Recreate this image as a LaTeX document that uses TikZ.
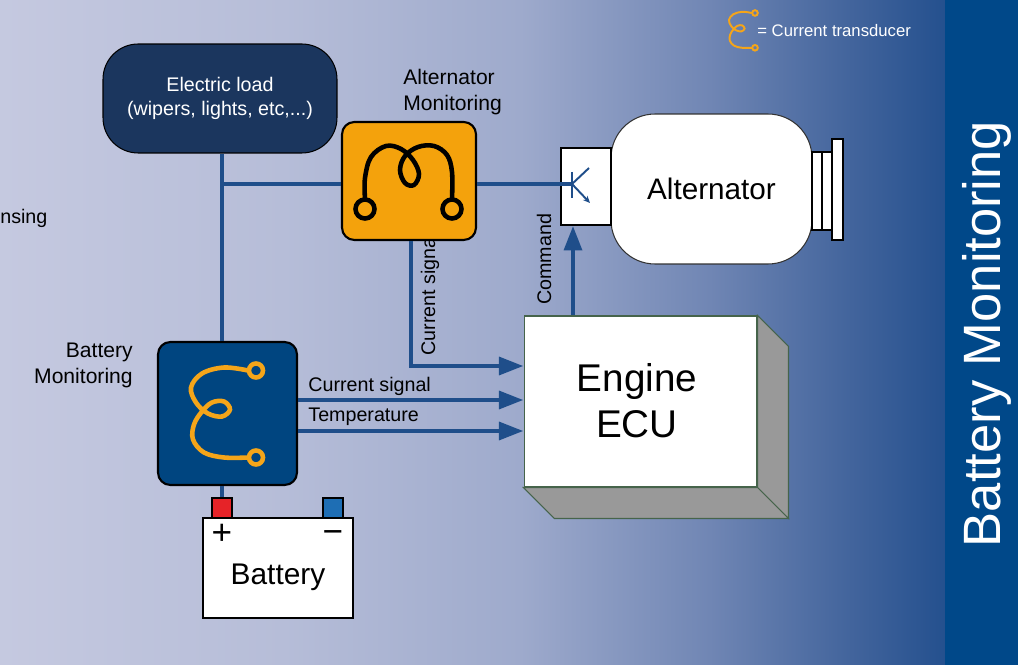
\documentclass[tikz,border=0pt]{standalone}
\usepackage{fontspec}
\setmainfont{Liberation Sans}
\usetikzlibrary{arrows.meta,calc,positioning}

\definecolor{bgA}{RGB}{197,201,224}
\definecolor{bgB}{RGB}{182,189,216}
\definecolor{bgC}{RGB}{158,170,204}
\definecolor{bgD}{RGB}{112,134,180}
\definecolor{bgE}{RGB}{66,100,156}
\definecolor{bgF}{RGB}{36,80,142}
\definecolor{stripblue}{RGB}{0,72,137}
\definecolor{busblue}{RGB}{31,78,138}
\definecolor{loadblue}{RGB}{27,54,94}
\definecolor{bmblue}{RGB}{0,69,128}
\definecolor{altorange}{RGB}{244,162,12}
\definecolor{coilorange}{RGB}{245,165,25}
\definecolor{termred}{RGB}{230,35,40}
\definecolor{termblue}{RGB}{30,110,180}
\definecolor{ecuedge}{RGB}{70,100,75}

% the path is fitted to the middle half (25bp..75bp) of the shading
\pgfdeclarehorizontalshading{panelshade}{100bp}{color(0bp)=(bgA); color(25bp)=(bgA); color(40bp)=(bgB); color(52.5bp)=(bgC); color(62.5bp)=(bgD); color(70bp)=(bgE); color(75bp)=(bgF); color(100bp)=(bgF)}

\tikzset{
  bmcoil/.pic={
    \draw[coilorange] plot[smooth, tension=0.6] coordinates {(26,-43) (2,-46) (-20,-40) (-31,-26) (-26,-11) (-14,0) (0,3) (8,-4) (2,-12) (-10,-11) (-20,-2) (-28,11) (-29,26) (-18,39) (2,44) (26,44)};
    \draw[coilorange] (34,-43) circle[radius=7];
    \draw[coilorange] (34,44) circle[radius=7];
  },
  altcoil/.pic={
    \draw[black] plot[smooth, tension=0.6] coordinates {(-44,18) (-44,-3) (-38,-24) (-23,-35) (-8,-32) (4,-21) (10,-7) (5,4) (-4,2) (-9,-11) (-4,-25) (9,-34) (25,-35) (38,-26) (43,-9) (43,18)};
    \draw[black] (-44,28) circle[radius=9.5];
    \draw[black] (43,28) circle[radius=9.5];
  }
}

\begin{document}
\begin{tikzpicture}[x=0.02cm, y=-0.02cm,
    lbl/.style={font=\fontsize{11.2}{13.6}\selectfont},
    biglbl/.style={font=\fontsize{12}{14.8}\selectfont},
    monbox/.style={draw=black, line width=1.2pt, rounded corners=7pt},
    bus/.style={draw=busblue, line width=2.6pt},
    sig/.style={bus, -{Triangle[length=14pt,width=10pt]}},
    kline/.style={draw=busblue, line width=1.1pt},
    face/.style={draw=ecuedge, line width=0.6pt, fill=black!40},
    pulley/.style={draw=black, line width=1.2pt, fill=white},
    term/.style={draw=black, line width=0.6pt, minimum size=0.4cm, inner sep=0pt}]

  \useasboundingbox (0,0) rectangle (1018,665);
  \fill[shading=panelshade] (0,0) rectangle (946,665);
  \fill[stripblue] (945,0) rectangle (1018,665);

  \node[rotate=90, anchor=base, text=white, font=\fontsize{29.9}{30}\selectfont] (title) at (1000,334) {Battery Monitoring};
  \pic[line width=1.1pt, scale=0.4] at (741.4,30.2) {bmcoil};
  \node[anchor=west, inner sep=0pt, text=white, font=\fontsize{9.5}{11}\selectfont] (legend) at (757,31) {= Current transducer};
  \node[lbl, anchor=base west, inner sep=0pt] (sensing) at (0,224) {nsing};

  % loads and monitors
  \node[draw=black, line width=0.6pt, fill=loadblue, rounded corners=20pt, text=white, align=center, lbl,
        minimum width=4.68cm, minimum height=2.18cm] (load) at (220,98.5) {Electric load\\(wipers, lights, etc,...)};
  \node[biglbl, align=left, anchor=west, inner sep=0pt] (altlbl) at (403,92) {Alternator\\Monitoring};
  \node[lbl, rotate=90, anchor=base west, inner sep=0pt] (altsiglbl) at (435,356) {Current signal};
  \node[monbox, fill=altorange, minimum width=2.68cm, minimum height=2.36cm] (altmon) at (409,181) {};
  \pic[line width=2.6pt] at (altmon.center) {altcoil};

  \node[monbox, fill=bmblue, minimum width=2.78cm, minimum height=2.86cm] (batmon) at (227.5,413.5) {};
  \pic[line width=2.6pt] at ([xshift=-0.11cm]batmon.center) {bmcoil};
  \node[biglbl, align=right, anchor=east, inner sep=0pt] (batlbl) at (133,365) {Battery\\Monitoring};

  % alternator with pulley
  \node[draw=black!80, line width=0.6pt, fill=white, rounded corners=25pt, minimum width=4.02cm, minimum height=3cm,
        font=\fontsize{16.9}{20}\selectfont] (alt) at (711.5,189) {Alternator};
  \draw[pulley] (812,152) rectangle (822,230);
  \draw[pulley] (822,152) rectangle (832,230);
  \draw[pulley] (832,139) rectangle (843,240);
  \node[draw=black, line width=1pt, fill=white, minimum width=1cm, minimum height=1.54cm] (sensor) at (586,186.5) {};
  \coordinate (kpt) at (572,184);
  \draw[kline] (572,172) -- (572,198);
  \draw[kline] (kpt) -- (589,168);
  \draw[kline, -{Stealth[length=4pt,width=3.5pt]}] (kpt) -- (590,203);

  % engine ECU
  \node[draw=ecuedge, line width=0.6pt, fill=white, align=center, minimum width=4.66cm, minimum height=3.42cm,
        font=\fontsize{22}{26}\selectfont] (ecu) at (640.5,401.5) {};
  \node[align=center, font=\fontsize{22}{26}\selectfont] (ecuname) at (637,401) {Engine\\ECU};
  \draw[face] (ecu.north east) -- ++(31,31) -- ([shift={(31,31)}]ecu.south east) -- (ecu.south east) -- cycle;
  \draw[face] (ecu.south west) -- ++(31,31) -- ([shift={(31,31)}]ecu.south east) -- (ecu.south east) -- cycle;

  % battery
  \node[draw=black, line width=1pt, fill=white, minimum width=3cm, minimum height=2cm] (bat) at (278,568) {};
  \node[font=\fontsize{17}{20}\selectfont] (batname) at (278,577) {Battery};
  \node[term, fill=termred] (plus) at (222,508) {};
  \node[term, fill=termblue] (minus) at (333,508) {};
  \node[font=\fontsize{20}{20}\selectfont, inner sep=0pt] (plussign) at (222,534) {+};
  \node[font=\fontsize{20}{20}\selectfont, inner sep=0pt] (minussign) at (333,537) {−};

  % power bus
  \coordinate (tap) at (222,184);
  \draw[bus] (load.south -| tap) -- (batmon.north -| tap);
  \draw[bus] (tap) -- (tap -| altmon.west);
  \draw[bus] (tap -| altmon.east) -- (kpt);
  \draw[bus] (batmon.south -| plus) -- (plus.north);

  % signals
  \draw[sig] ([xshift=0.04cm]altmon.south) |- ([yshift=0.71cm]ecu.west);
  \draw[sig] ([yshift=0.27cm]batmon.east) coordinate (cs) -- (cs -| ecu.west);
  \draw[sig] ([yshift=-0.35cm]batmon.east) coordinate (tp) -- (tp -| ecu.west);
  \node[lbl, anchor=base west, inner sep=0pt] (cslbl) at ([shift={(10,-9)}]cs) {Current signal};
  \node[lbl, anchor=base west, inner sep=0pt] (tplbl) at ([shift={(10,-9)}]tp) {Temperature};
  \draw[sig] ($(ecu.north)+(-67.5,0)$) coordinate (cmd) -- (cmd |- sensor.south);
  \node[lbl, rotate=90, anchor=base west, inner sep=0pt] (cmdlbl) at (551,305) {Command};
\end{tikzpicture}
\end{document}
